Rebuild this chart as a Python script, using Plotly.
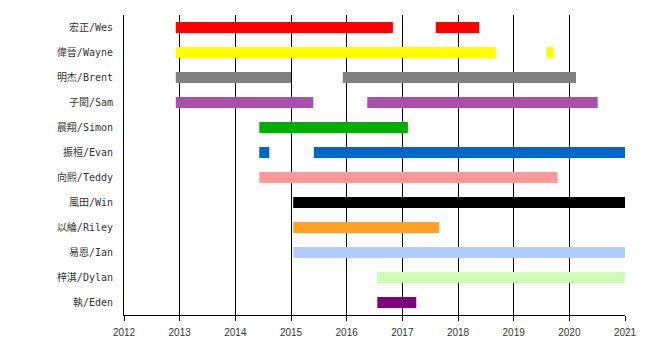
import plotly.graph_objects as go

names = ["宏正/Wes", "偉晉/Wayne", "明杰/Brent", "子閎/Sam", "晨翔/Simon", "振桓/Evan",
         "向熙/Teddy", "風田/Win", "以綸/Riley", "易恩/Ian", "梓淇/Dylan", "執/Eden"]
colors = ["#ff0000", "#ffff00", "#808080", "#aa50aa", "#00b000", "#0066cc",
          "#ff9999", "#000000", "#ffa128", "#b3ccff", "#ccffb3", "#800080"]
starts = [[2012.93, 2017.60], [2012.93, 2019.59], [2012.93, 2015.93], [2012.93, 2016.37],
          [2014.43], [2014.43, 2015.41], [2014.43], [2015.04], [2015.04], [2015.04],
          [2016.54], [2016.55]]
ends = [[2016.83, 2018.38], [2018.68, 2019.72], [2015.00, 2020.12], [2015.40, 2020.51],
        [2017.10], [2014.61, 2021.0], [2019.79], [2021.0], [2017.66], [2021.0],
        [2021.0], [2017.25]]
years = list(range(2012, 2022))

fig = go.Figure()
for name, col, s, e in zip(names, colors, starts, ends):
    fig.add_trace(go.Bar(
        y=[name] * len(s), base=s, x=[b - a for a, b in zip(s, e)],
        orientation="h", marker=dict(color=col, line=dict(width=0)),
        width=0.44, showlegend=False, hoverinfo="skip"))

fig.update_layout(
    width=650, height=350, margin=dict(l=124, r=25, t=15, b=35),
    plot_bgcolor="white", paper_bgcolor="white", barmode="overlay",
    font=dict(family="Liberation Sans, Arial, sans-serif", size=10, color="#333"),
)
fig.update_xaxes(range=[2012, 2021], tickvals=years, ticktext=[str(y) for y in years],
                 showgrid=True, gridcolor="black", gridwidth=1,
                 showline=True, linecolor="black", linewidth=1,
                 ticks="outside", ticklen=5, tickcolor="black", zeroline=False,
                 ticklabelstandoff=3,
                 tickfont=dict(family="Liberation Sans, Arial, sans-serif", size=10, color="#333"))
fig.update_yaxes(categoryorder="array", categoryarray=names,
                 showgrid=False, showline=True, linecolor="black",
                 linewidth=1, ticks="", ticklabelstandoff=8,
                 tickfont=dict(family="DejaVu Sans Mono, Noto Sans CJK TC, monospace", size=10, color="#333"))
fig.update_yaxes(autorange=False, range=[11.5, -0.5])
fig.write_html("out.html")
